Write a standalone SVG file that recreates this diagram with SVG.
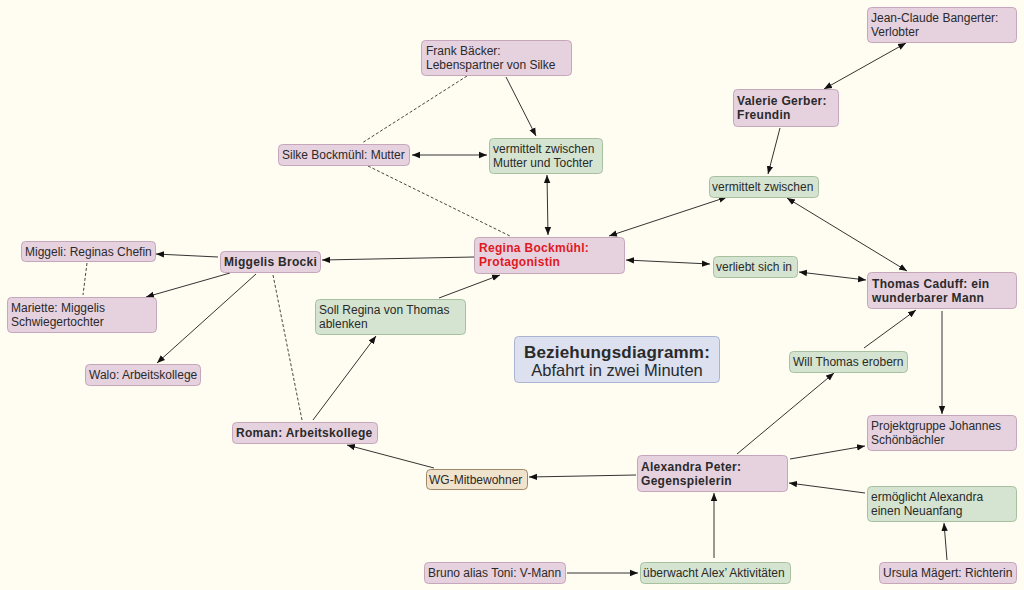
<svg xmlns="http://www.w3.org/2000/svg" width="1024" height="590" viewBox="0 0 1024 590">
<defs>
<style>
.bg{fill:#fffdf1}
.p{fill:#e6d1df;stroke:#c6a6bb;stroke-width:1}
.g{fill:#d5e4d0;stroke:#a7c1a0;stroke-width:1}
.w{fill:#f0e3cd;stroke:#9e8868;stroke-width:1}
.ti{fill:#dce0ef;stroke:#abb3d3;stroke-width:1}
text{font-family:"Liberation Sans",Arial,sans-serif;font-size:12px;fill:#2a2a2a}
.bd{font-weight:bold;letter-spacing:0.3px}
.red{fill:#e0191f}
.c line{stroke:#333;stroke-width:1;fill:none}
.c line.d{stroke:#444;stroke-dasharray:3,2}
</style>
<marker id="a" viewBox="0 0 10 10" refX="10" refY="5" markerWidth="8" markerHeight="8" markerUnits="userSpaceOnUse" orient="auto-start-reverse">
<path d="M0,1 L10,5 L0,9 z" fill="#111"/>
</marker>
</defs>
<rect class="bg" x="0" y="0" width="1024" height="590"/>

<g class="c" id="connectors">
<line class="d" x1="467" y1="76" x2="362" y2="143"/>
<line class="d" x1="368" y1="166" x2="510" y2="236"/>
<line class="d" x1="273" y1="275" x2="302" y2="420"/>
<line class="d" x1="87" y1="263" x2="83" y2="295"/>
<line x1="506" y1="77" x2="536" y2="136" marker-end="url(#a)"/>
<line x1="412" y1="155" x2="487" y2="155" marker-start="url(#a)" marker-end="url(#a)"/>
<line x1="547" y1="175" x2="548" y2="235" marker-start="url(#a)" marker-end="url(#a)"/>
<line x1="906" y1="43" x2="824" y2="89" marker-start="url(#a)" marker-end="url(#a)"/>
<line x1="780" y1="128" x2="768" y2="174" marker-end="url(#a)"/>
<line x1="727" y1="197" x2="609" y2="236" marker-start="url(#a)" marker-end="url(#a)"/>
<line x1="787" y1="198" x2="907" y2="271" marker-start="url(#a)" marker-end="url(#a)"/>
<line x1="626" y1="260" x2="710" y2="264" marker-start="url(#a)" marker-end="url(#a)"/>
<line x1="799" y1="272" x2="866" y2="280" marker-start="url(#a)" marker-end="url(#a)"/>
<line x1="474" y1="257" x2="322" y2="260" marker-end="url(#a)"/>
<line x1="439" y1="298" x2="500" y2="275" marker-end="url(#a)"/>
<line x1="313" y1="420" x2="376" y2="336" marker-end="url(#a)"/>
<line x1="218" y1="257" x2="156" y2="254" marker-end="url(#a)"/>
<line x1="230" y1="273" x2="146" y2="297" marker-end="url(#a)"/>
<line x1="256" y1="274" x2="157" y2="363" marker-end="url(#a)"/>
<line x1="942" y1="311" x2="942" y2="414" marker-end="url(#a)"/>
<line x1="864" y1="348" x2="916" y2="310" marker-end="url(#a)"/>
<line x1="737" y1="454" x2="834" y2="373" marker-end="url(#a)"/>
<line x1="790" y1="459" x2="865" y2="446" marker-end="url(#a)"/>
<line x1="865" y1="493" x2="789" y2="483" marker-end="url(#a)"/>
<line x1="947" y1="560" x2="944" y2="523" marker-end="url(#a)"/>
<line x1="714" y1="558" x2="714" y2="493" marker-end="url(#a)"/>
<line x1="567" y1="573" x2="638" y2="573" marker-end="url(#a)"/>
<line x1="636" y1="475" x2="529" y2="477" marker-end="url(#a)"/>
<line x1="434" y1="468" x2="347" y2="445" marker-end="url(#a)"/>
</g>

<g id="frank"><rect class="p" x="421.5" y="40.5" width="150" height="35" rx="4"/><text x="426" y="55">Frank Bäcker:</text><text x="426" y="69">Lebenspartner von Silke</text></g>
<g id="vermittelt-mutter-tochter"><rect class="g" x="489.5" y="138.5" width="113" height="35" rx="4"/><text x="493" y="153">vermittelt zwischen</text><text x="493" y="167">Mutter und Tochter</text></g>
<g id="silke"><rect class="p" x="278.5" y="144.5" width="131" height="21" rx="4"/><text x="282" y="159">Silke Bockmühl: Mutter</text></g>
<g id="jeanclaude"><rect class="p" x="867.5" y="7.5" width="149" height="35" rx="4"/><text x="871" y="22">Jean-Claude Bangerter:</text><text x="871" y="36">Verlobter</text></g>
<g id="valerie"><rect class="p" x="733.5" y="89.5" width="105" height="37" rx="4"/><text class="bd" x="737" y="105">Valerie Gerber:</text><text class="bd" x="737" y="119">Freundin</text></g>
<g id="vermittelt"><rect class="g" x="709.5" y="176.5" width="109" height="21" rx="4"/><text x="712" y="191">vermittelt zwischen</text></g>
<g id="regina"><rect class="p" x="474.5" y="237.5" width="150" height="36" rx="4"/><text class="bd red" x="479" y="252">Regina Bockmühl:</text><text class="bd red" x="479" y="266">Protagonistin</text></g>
<g id="miggelis"><rect class="p" x="220.5" y="251.5" width="100" height="21" rx="4"/><text class="bd" x="224" y="266">Miggelis Brocki</text></g>
<g id="miggeli"><rect class="p" x="21.5" y="241.5" width="134" height="20" rx="4"/><text x="25" y="256">Miggeli: Reginas Chefin</text></g>
<g id="mariette"><rect class="p" x="7.5" y="297.5" width="149" height="35" rx="4"/><text x="11" y="312">Mariette: Miggelis</text><text x="11" y="326">Schwiegertochter</text></g>
<g id="walo"><rect class="p" x="85.5" y="364.5" width="115" height="21" rx="4"/><text x="89" y="379">Walo: Arbeitskollege</text></g>
<g id="soll"><rect class="g" x="315.5" y="299.5" width="150" height="35" rx="4"/><text x="319" y="314">Soll Regina von Thomas</text><text x="319" y="328">ablenken</text></g>
<g id="titel"><rect class="ti" x="514.5" y="336.5" width="205" height="46" rx="4"/><text x="617" y="357.5" text-anchor="middle" style="font-size:17px;font-weight:bold;letter-spacing:0.2px">Beziehungsdiagramm:</text><text x="617" y="375.5" text-anchor="middle" style="font-size:16.5px">Abfahrt in zwei Minuten</text></g>
<g id="verliebt"><rect class="g" x="713.5" y="256.5" width="84" height="21" rx="4"/><text x="716" y="271">verliebt sich in</text></g>
<g id="thomas"><rect class="p" x="867.5" y="272.5" width="149" height="36" rx="4"/><text class="bd" x="872" y="288">Thomas Caduff: ein</text><text class="bd" x="872" y="302">wunderbarer Mann</text></g>
<g id="will"><rect class="g" x="789.5" y="351.5" width="118" height="21" rx="4"/><text x="793" y="366">Will Thomas erobern</text></g>
<g id="roman"><rect class="p" x="232.5" y="422.5" width="145" height="21" rx="4"/><text class="bd" x="236" y="437">Roman: Arbeitskollege</text></g>
<g id="wg"><rect class="w" x="426.5" y="469.5" width="101" height="20" rx="4"/><text x="429" y="484">WG-Mitbewohner</text></g>
<g id="alexandra"><rect class="p" x="637.5" y="455.5" width="150" height="36" rx="4"/><text class="bd" x="641" y="471">Alexandra Peter:</text><text class="bd" x="641" y="485">Gegenspielerin</text></g>
<g id="projektgruppe"><rect class="p" x="867.5" y="415.5" width="149" height="35" rx="4"/><text x="871" y="430">Projektgruppe Johannes</text><text x="871" y="444">Schönbächler</text></g>
<g id="ermoeglicht"><rect class="g" x="867.5" y="486.5" width="149" height="35" rx="4"/><text x="871" y="501">ermöglicht Alexandra</text><text x="871" y="515">einen Neuanfang</text></g>
<g id="bruno"><rect class="p" x="424.5" y="562.5" width="141" height="21" rx="4"/><text x="428" y="577">Bruno alias Toni: V-Mann</text></g>
<g id="ueberwacht"><rect class="g" x="640.5" y="562.5" width="150" height="21" rx="4"/><text x="643" y="577">überwacht Alex’ Aktivitäten</text></g>
<g id="ursula"><rect class="p" x="879.5" y="562.5" width="137" height="21" rx="4"/><text x="883" y="577">Ursula Mägert: Richterin</text></g>
</svg>
